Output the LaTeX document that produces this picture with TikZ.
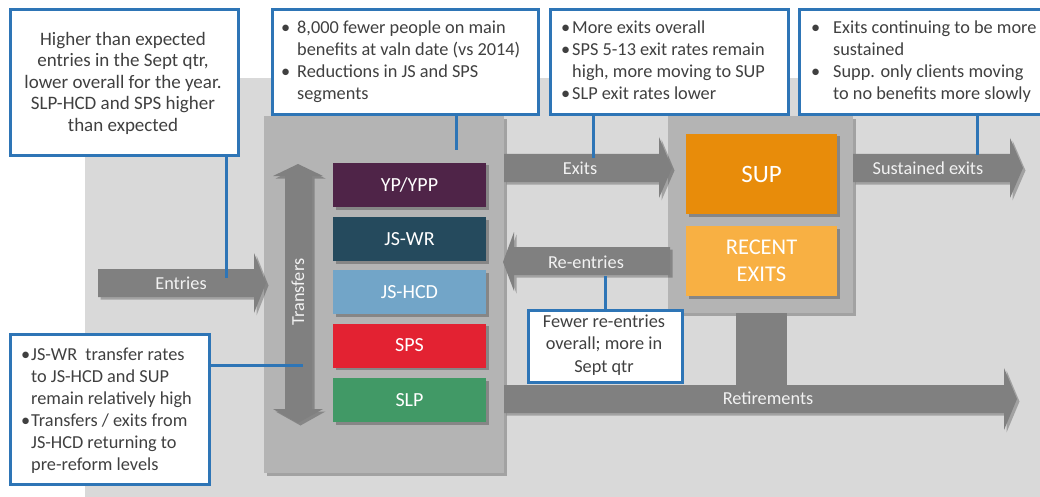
\documentclass[tikz,border=0pt]{standalone}
\usepackage{fontspec}
\setmainfont{Carlito}
\usetikzlibrary{shadows}
\definecolor{bg}{HTML}{D9D9D9}
\definecolor{panel}{HTML}{B4B4B4}
\definecolor{arr}{HTML}{808080}
\definecolor{blu}{HTML}{2E75B6}
\definecolor{txt}{HTML}{404040}
\definecolor{labl}{HTML}{F2F2F2}
\definecolor{cyp}{HTML}{4F2448}
\definecolor{cjswr}{HTML}{254A5D}
\definecolor{cjshcd}{HTML}{72A5C8}
\definecolor{csps}{HTML}{E32232}
\definecolor{cslp}{HTML}{419966}
\definecolor{csup}{HTML}{E88C0A}
\definecolor{crec}{HTML}{F8B043}
\newcommand{\bitem}[2]{\makebox[#1][l]{\textbullet}#2}
\tikzset{
  shad/.style={drop shadow={shadow xshift=2.5pt,shadow yshift=-2.5pt,opacity=0.25,fill=black}},
  panelbox/.style={fill=panel,anchor=north west,inner sep=0pt,shad},
  segbox/.style={fill=#1,minimum width=153pt,minimum height=44pt,inner sep=0pt,text=white,
    font=\fontsize{20}{24}\selectfont,shad},
  arrowshape/.style={fill=arr,shad},
  arrlabel/.style={text=labl,font=\fontsize{18.3}{21}\selectfont,inner sep=0pt},
  callout/.style={draw=blu,line width=3pt,fill=white,anchor=north west,inner sep=0pt},
  calltext/.style={text=txt,inner sep=0pt,anchor=base west},
  conn/.style={draw=blu,line width=3pt}
}
\begin{document}
\begin{tikzpicture}[x=1pt,y=-1pt]
\useasboundingbox (0,0) rectangle (1040,497);
\fill[bg] (85,78) rectangle (1040,497);

% panels
\node[panelbox,minimum width=240pt,minimum height=357pt] (lp) at (264,116) {};
\node[panelbox,minimum width=185pt,minimum height=197pt] (rp) at (668,116) {};

% connector block from right panel to retirements
\fill[arr] (736,313) rectangle (787,386);
\coordinate (blk) at (761,313);

% arrows
\fill[arrowshape] (98,269) -- (254,269) -- (254,253) -- (266,283) -- (254,313) -- (254,297) -- (98,297) -- cycle;
\node[arrlabel] (entries) at (181,283) {Entries};

\fill[arrowshape] (504,154) -- (659,154) -- (659,137) -- (672,168) -- (659,198) -- (659,182) -- (504,182) -- cycle;
\node[arrlabel] (exits) at (580,168) {Exits};

\fill[arrowshape] (853,154) -- (1010,154) -- (1010,138) -- (1023,168) -- (1010,198) -- (1010,182) -- (853,182) -- cycle;
\node[arrlabel] (sust) at (928,168) {Sustained exits};

\fill[arrowshape] (670,247) -- (514,247) -- (514,232) -- (503,262) -- (514,291) -- (514,275) -- (670,275) -- cycle;
\node[arrlabel] (reent) at (586,262) {Re-entries};

\fill[arrowshape] (504,385) -- (1004,385) -- (1004,368) -- (1017,399) -- (1004,430) -- (1004,413) -- (504,413) -- cycle;
\node[arrlabel] (retire) at (768,398) {Retirements};

% transfers double arrow
\fill[arrowshape] (285,176) -- (273,176) -- (298,164) -- (323,176) -- (312,176) -- (312,409) -- (323,409) -- (298,423) -- (273,409) -- (285,409) -- cycle;
\node[arrlabel,rotate=90] (transfers) at (298,292) {Transfers};

% segment boxes
\node[segbox=cyp] (yp) at (409.5,185) {YP/YPP};
\node[segbox=cjswr] (jswr) at (409.5,239) {JS-WR};
\node[segbox=cjshcd] (jshcd) at (409.5,292) {JS-HCD};
\node[segbox=csps] (sps) at (409.5,345.5) {SPS};
\node[segbox=cslp] (slp) at (409.5,400) {SLP};

\node[fill=csup,minimum width=151pt,minimum height=80pt,inner sep=0pt,text=white,
  font=\fontsize{25}{30}\selectfont,shad] (sup) at (761.5,174) {SUP};
\node[fill=crec,minimum width=151pt,minimum height=70pt,inner sep=0pt,text=white,align=center,
  font=\fontsize{22.5}{27}\selectfont,shad] (rec) at (761.5,261) {RECENT\\EXITS};

% callouts
\node[callout,minimum width=228pt,minimum height=146pt] (boxA) at (9,8) {};
\node[text=txt,inner sep=0pt,align=center,font=\fontsize{19}{21.5}\selectfont] (tA) at (123,83)
  {Higher than expected\\entries in the Sept qtr,\\lower overall for the year.\\SLP-HCD and SPS higher\\than expected};

\node[callout,minimum width=266pt,minimum height=105pt] (boxB) at (271,8) {};
\node[calltext] (tB) at (281,34) {\fontsize{18.3}{22}\selectfont\parbox[t]{250pt}{%
  \bitem{16pt}{8,000 fewer people on main}\\
  \hspace*{16pt}benefits at valn date (vs 2014)\\
  \bitem{16pt}{Reductions in JS and SPS}\\
  \hspace*{16pt}segments}};

\node[callout,minimum width=238pt,minimum height=105pt] (boxC) at (549,8) {};
\node[calltext] (tC) at (561,34) {\fontsize{18.3}{22}\selectfont\parbox[t]{225pt}{%
  \bitem{11pt}{More exits overall}\\
  \bitem{11pt}{SPS 5-13 exit rates remain}\\
  \hspace*{11pt}high, more moving to SUP\\
  \bitem{11pt}{SLP exit rates lower}}};

\node[callout,minimum width=252pt,minimum height=105pt] (boxD) at (798,8) {};
\node[calltext] (tD) at (811,34) {\fontsize{18.3}{22}\selectfont\parbox[t]{240pt}{%
  \bitem{22pt}{Exits continuing to be more}\\
  \hspace*{22pt}sustained\\
  \bitem{22pt}{Supp. only clients moving}\\
  \hspace*{22pt}to no benefits more slowly}};

\node[callout,minimum width=199pt,minimum height=150pt] (boxE) at (9,333) {};
\node[calltext] (tE) at (21,360) {\fontsize{18.3}{22}\selectfont\parbox[t]{185pt}{%
  \bitem{10pt}{JS-WR\ \ transfer rates}\\
  \hspace*{10pt}to JS-HCD and SUP\\
  \hspace*{10pt}remain relatively high\\
  \bitem{10pt}{Transfers / exits from}\\
  \hspace*{10pt}JS-HCD returning to\\
  \hspace*{10pt}pre-reform levels}};

\node[callout,minimum width=154pt,minimum height=72pt] (boxF) at (527,309) {};
\node[text=txt,inner sep=0pt,align=center,font=\fontsize{18.3}{22.5}\selectfont] (tF) at (604,345)
  {Fewer re-entries\\overall; more in\\Sept qtr};

% connector lines
\coordinate (cA) at (226,278);
\coordinate (cB) at (456,150);
\coordinate (cC) at (593,158);
\coordinate (cD) at (977,155);
\coordinate (cE) at (303,365);
\coordinate (cF) at (605,276);
\draw[conn] (boxA.south -| cA) -- (cA);
\draw[conn] (boxB.south -| cB) -- (cB);
\draw[conn] (boxC.south -| cC) -- (cC);
\draw[conn] (boxD.south -| cD) -- (cD);
\draw[conn] (boxE.east |- cE) -- (cE);
\draw[conn] (boxF.north -| cF) -- (cF);
\end{tikzpicture}
\end{document}
